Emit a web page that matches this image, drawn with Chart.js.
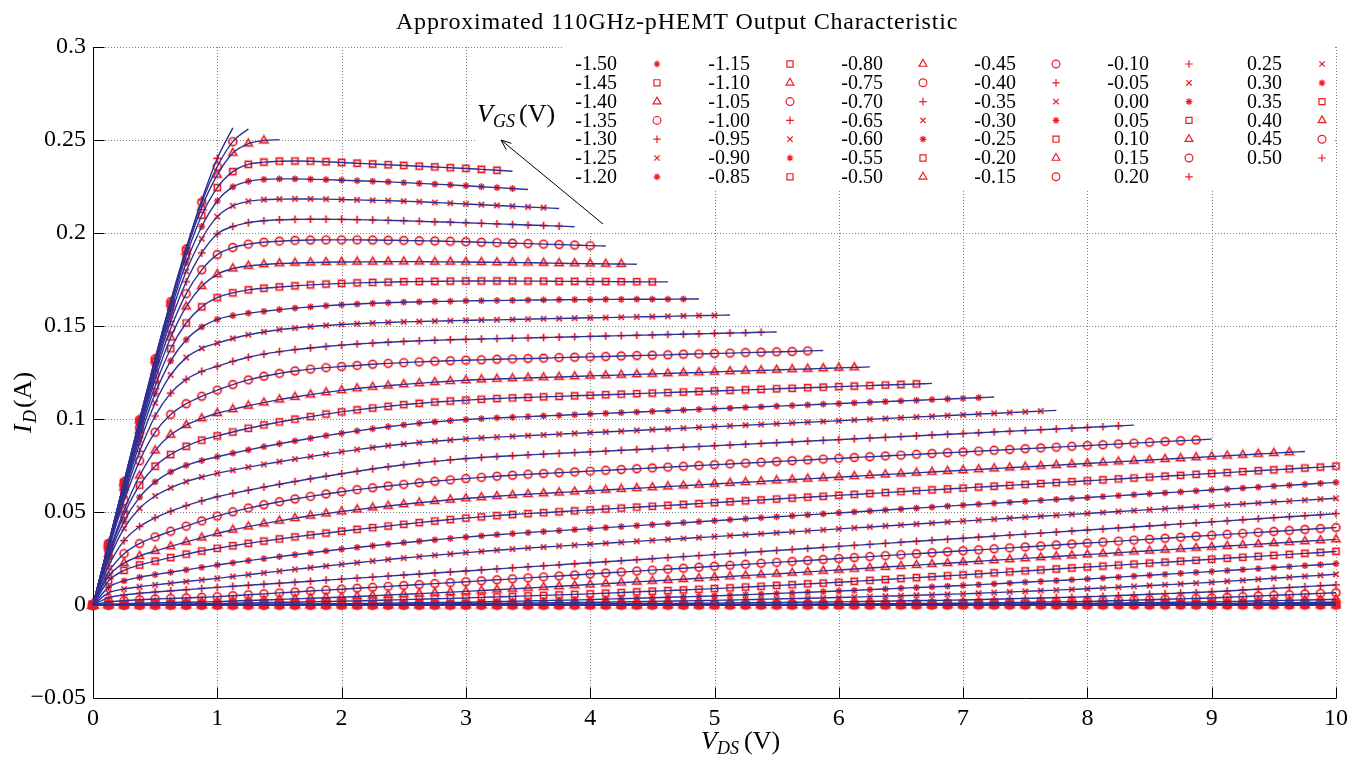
<!DOCTYPE html>
<html><head><meta charset="utf-8">
<script src="https://cdn.jsdelivr.net/npm/chart.js@4.4.1/dist/chart.umd.min.js"></script>
<style>html,body{margin:0;padding:0;background:#fff;}#wrap{width:1354px;height:762px;}</style>
</head><body><div id="wrap"><canvas id="c" width="1354" height="762"></canvas></div>
<script>
// Drain-source voltage grid (V)
const vds = [0,0.125,0.25,0.375,0.5,0.625,0.75,0.875,1,1.125,1.25,1.375,1.5,1.625,1.75,1.875,2,2.125,2.25,2.375,2.5,2.625,2.75,2.875,3,3.125,3.25,3.375,3.5,3.625,3.75,3.875,4,4.125,4.25,4.375,4.5,4.625,4.75,4.875,5,5.125,5.25,5.375,5.5,5.625,5.75,5.875,6,6.125,6.25,6.375,6.5,6.625,6.75,6.875,7,7.125,7.25,7.375,7.5,7.625,7.75,7.875,8,8.125,8.25,8.375,8.5,8.625,8.75,8.875,9,9.125,9.25,9.375,9.5,9.625,9.75,9.875,10];
const vgsLabels = ['-1.50','-1.45','-1.40','-1.35','-1.30','-1.25','-1.20','-1.15','-1.10','-1.05','-1.00','-0.95','-0.90','-0.85','-0.80','-0.75','-0.70','-0.65','-0.60','-0.55','-0.50','-0.45','-0.40','-0.35','-0.30','-0.25','-0.20','-0.15','-0.10','-0.05','0.00','0.05','0.10','0.15','0.20','0.25','0.30','0.35','0.40','0.45','0.50'];
const xTickValues = [0,1,2,3,4,5,6,7,8,9,10];
const xTickLabels = ['0','1','2','3','4','5','6','7','8','9','10'];
const yTickValues = [-0.05,0,0.05,0.1,0.15,0.2,0.25,0.3];
const yTickLabels = ['\u22120.05','0','0.05','0.1','0.15','0.2','0.25','0.3'];

// Drain current per VGS (mA), one value per vds step
const id_m150 = [0,0,0,0,0,0,0,0,0,0,0,0,0,0,0,0,0,0,0,0,0,0,0,0,0,0,0,0,0,0,0,0,0,0,0,0,0,0,0,0,0,0,0,0,0,0,0,0,0,0,0,0,0,0,0,0,0,0,0,0,0,0,0,0,0,0,0,0,0,0,0,0,0,0,0,0,0,0,0,0,0];
const id_m145 = [0,0,0,0,0,0,0,0,0,0,0,0,0,0,0,0,0,0,0,0,0,0,0,0,0,0,0,0,0,0,0,0,0,0,0,0,0,0,0,0,0,0,0,0,0,0,0,0,0,0,0,0,0,0,0,0,0,0,0,0,0,0,0,0,0,0,0,0,0,0,0,0,0,0,0,0,0,0,0,0,0];
const id_m140 = [0,0,0,0,0,0,0,0,0,0,0,0,0,0,0,0,0,0,0,0,0,0,0,0,0,0,0,0,0,0,0,0,0,0,0,0,0,0,0,0,0,0,0,0,0,0,0,0,0,0,0,0,0,0,0,0,0,0,0,0,0,0,0,0,0,0,0,0,0,0,0,0,0,0,0,0,0,0,0,0,0];
const id_m135 = [0,0,0,0,0,0,0,0,0,0,0,0,0,0,0,0,0,0,0,0,0,0,0,0,0,0,0,0,0,0,0,0,0,0,0,0,0,0,0,0,0,0,0,0,0,0,0,0,0,0,0,0,0,0,0,0,0,0,0,0,0,0,0,0,0,0,0,0,0,0,0,0,0,0,0,0,0,0,0,0,0];
const id_m130 = [0,0,0,0,0,0,0,0,0,0,0,0,0,0,0,0,0,0,0,0,0,0,0,0,0,0,0,0,0,0,0,0,0,0,0,0,0,0,0,0,0,0,0,0,0,0,0,0,0,0,0,0,0,0,0,0,0,0,0,0,0,0,0,0,0,0,0,0,0,0,0,0,0,0,0,0,0,0,0,0,0];
const id_m125 = [0,0,0,0,0,0,0,0,0,0,0,0,0,0,0,0,0,0,0,0,0,0,0,0,0,0,0,0,0,0,0,0,0,0,0,0,0,0,0,0,0,0,0,0,0,0,0,0,0,0,0,0,0,0,0,0,0,0,0,0,0,0,0,0,0,0.03,0.05,0.08,0.1,0.13,0.15,0.18,0.2,0.23,0.25,0.28,0.3,0.33,0.35,0.38,0.4];
const id_m120 = [0,0,0,0,0,0,0,0,0,0,0,0,0,0,0,0,0,0,0,0,0,0,0,0,0,0,0,0,0,0,0,0,0,0,0,0,0,0,0,0,0,0,0,0,0,0,0,0,0,0,0,0,0,0,0,0,0,0.03,0.05,0.08,0.1,0.13,0.15,0.18,0.2,0.23,0.25,0.28,0.3,0.33,0.35,0.38,0.4,0.45,0.5,0.55,0.6,0.65,0.7,0.75,0.8];
const id_m115 = [0,0,0,0,0,0,0,0,0,0,0,0,0,0,0,0,0,0,0,0,0,0,0,0,0,0,0,0,0,0,0,0,0,0,0,0,0,0,0,0,0,0,0,0,0,0,0,0,0,0.03,0.05,0.08,0.1,0.13,0.15,0.18,0.2,0.23,0.25,0.28,0.3,0.33,0.35,0.38,0.4,0.45,0.5,0.55,0.6,0.65,0.7,0.75,0.8,0.89,0.98,1.06,1.15,1.24,1.33,1.41,1.5];
const id_m110 = [0,0,0,0,0,0,0,0,0,0,0,0,0,0,0,0,0,0,0,0,0,0,0,0,0,0,0,0,0,0,0,0,0,0.05,0.05,0.06,0.07,0.08,0.09,0.1,0.1,0.11,0.13,0.14,0.15,0.16,0.18,0.19,0.2,0.23,0.25,0.28,0.3,0.33,0.35,0.38,0.4,0.46,0.51,0.57,0.62,0.68,0.74,0.79,0.85,0.96,1.06,1.17,1.27,1.38,1.49,1.59,1.7,1.86,2.03,2.19,2.35,2.51,2.68,2.84,3];
const id_m105 = [0,0,0,0.01,0.01,0.01,0.02,0.02,0.02,0.03,0.03,0.03,0.04,0.04,0.04,0.05,0.05,0.06,0.06,0.07,0.07,0.08,0.08,0.09,0.1,0.11,0.12,0.13,0.14,0.15,0.16,0.17,0.18,0.2,0.21,0.23,0.24,0.26,0.27,0.29,0.3,0.33,0.36,0.39,0.43,0.46,0.49,0.52,0.55,0.6,0.65,0.7,0.75,0.8,0.85,0.9,0.95,1.07,1.19,1.31,1.43,1.54,1.66,1.78,1.9,2.14,2.37,2.61,2.85,3.09,3.32,3.56,3.8,4.15,4.5,4.85,5.2,5.55,5.9,6.25,6.6];
const id_m100 = [0,0,0.01,0.01,0.02,0.03,0.03,0.04,0.05,0.06,0.07,0.08,0.09,0.1,0.1,0.11,0.12,0.14,0.16,0.19,0.21,0.23,0.25,0.28,0.3,0.34,0.38,0.41,0.45,0.49,0.53,0.56,0.6,0.65,0.7,0.75,0.8,0.85,0.9,0.95,1,1.09,1.18,1.26,1.35,1.44,1.53,1.61,1.7,1.82,1.95,2.07,2.2,2.32,2.45,2.57,2.7,2.91,3.12,3.34,3.55,3.76,3.97,4.19,4.4,4.74,5.07,5.41,5.75,6.09,6.42,6.76,7.1,7.56,8.03,8.49,8.95,9.41,9.87,10.34,10.8];
const id_m095 = [0,0.01,0.02,0.04,0.05,0.06,0.07,0.09,0.1,0.12,0.15,0.17,0.2,0.22,0.25,0.27,0.3,0.35,0.4,0.45,0.5,0.55,0.6,0.65,0.7,0.79,0.88,0.96,1.05,1.14,1.23,1.31,1.4,1.54,1.67,1.81,1.95,2.09,2.22,2.36,2.5,2.69,2.87,3.06,3.25,3.44,3.62,3.81,4,4.25,4.5,4.75,5,5.25,5.5,5.75,6,6.34,6.67,7.01,7.35,7.69,8.02,8.36,8.7,9.14,9.57,10.01,10.45,10.89,11.32,11.76,12.2,12.74,13.27,13.81,14.35,14.89,15.42,15.96,16.5];
const id_m090 = [0,0.05,0.1,0.13,0.17,0.2,0.23,0.27,0.3,0.35,0.4,0.45,0.5,0.55,0.6,0.65,0.7,0.8,0.9,1,1.1,1.2,1.3,1.4,1.5,1.67,1.85,2.02,2.2,2.37,2.55,2.72,2.9,3.15,3.4,3.65,3.9,4.15,4.4,4.65,4.9,5.22,5.55,5.87,6.2,6.52,6.85,7.17,7.5,7.87,8.25,8.62,9,9.37,9.75,10.12,10.5,10.94,11.38,11.81,12.25,12.69,13.13,13.56,14,14.5,15,15.5,16,16.5,17,17.5,18,18.52,19.05,19.57,20.1,20.62,21.15,21.67,22.2];
const id_m085 = [0,0.1,0.2,0.3,0.4,0.5,0.6,0.7,0.8,0.95,1.1,1.25,1.4,1.55,1.7,1.85,2,2.2,2.45,2.65,2.9,3.1,3.35,3.55,3.8,4.1,4.35,4.6,4.9,5.15,5.45,5.7,6,6.35,6.7,7.05,7.4,7.75,8.1,8.45,8.8,9.2,9.65,10.05,10.5,10.9,11.35,11.75,12.2,12.7,13.2,13.7,14.2,14.7,15.2,15.7,16.2,16.7,17.25,17.8,18.3,18.85,19.35,19.9,20.4,20.9,21.45,21.95,22.5,23,23.55,24.05,24.6,25.1,25.65,26.15,26.7,27.2,27.75,28.25,28.8];
const id_m080 = [0,0.4,0.7,0.95,1.15,1.35,1.5,1.65,1.8,2.1,2.4,2.7,3,3.3,3.6,3.9,4.2,4.58,4.97,5.36,5.75,6.14,6.53,6.92,7.3,7.76,8.22,8.68,9.14,9.6,10.06,10.52,11,11.48,11.96,12.44,12.92,13.4,13.88,14.36,14.84,15.32,15.8,16.28,16.76,17.28,17.8,18.32,18.84,19.36,19.88,20.4,20.92,21.44,21.96,22.48,23,23.52,24.04,24.55,25.06,25.57,26.08,26.59,27.1,27.61,28.12,28.63,29.14,29.65,30.16,30.67,31.18,31.69,32.2,32.71,33.22,33.73,34.24,34.75,35.26];
const id_m075 = [0,1.6,2.3,2.8,3.2,3.5,3.8,4.15,4.5,5,5.5,6,6.5,7,7.5,8,8.5,9,9.5,10,10.5,11,11.5,12,12.5,13.02,13.54,14.06,14.58,15.1,15.62,16.14,16.66,17.18,17.7,18.22,18.74,19.26,19.78,20.3,20.82,21.34,21.86,22.38,22.9,23.42,23.94,24.46,24.98,25.5,26.02,26.54,27.06,27.58,28.1,28.62,29.14,29.66,30.18,30.7,31.22,31.74,32.26,32.78,33.3,33.82,34.34,34.86,35.38,35.9,36.42,36.94,37.46,37.98,38.5,39.02,39.54,40.06,40.58,41.1,41.62];
const id_m070 = [0,4,5.4,6.3,7,7.6,8.2,8.9,9.5,10.05,10.6,11.15,11.7,12.25,12.8,13.35,13.9,14.45,15,15.55,16.1,16.65,17.2,17.75,18.3,18.85,19.4,19.95,20.5,21.05,21.6,22.15,22.7,23.25,23.8,24.35,24.9,25.45,26,26.55,27.1,27.65,28.2,28.75,29.3,29.85,30.4,30.95,31.5,32.05,32.6,33.15,33.7,34.25,34.8,35.35,35.9,36.45,37,37.55,38.1,38.65,39.2,39.75,40.3,40.85,41.4,41.95,42.5,43.05,43.6,44.15,44.7,45.25,45.8,46.35,46.9,47.45,48,48.55,49.1];
const id_m065 = [0,6.5,8.6,9.8,10.8,11.7,12.6,13.5,14.3,15.3,16.3,17.25,18.2,19.15,20.05,20.95,21.85,22.75,23.6,24.45,25.25,26,26.75,27.45,28.15,28.8,29.45,30.05,30.65,31.16,31.67,32.18,32.69,33.2,33.71,34.22,34.73,35.24,35.75,36.26,36.77,37.28,37.79,38.3,38.81,39.34,39.86,40.39,40.91,41.44,41.96,42.49,43.01,43.54,44.06,44.59,45.11,45.64,46.16,46.67,47.18,47.69,48.2,48.71,49.22,49.73,50.24,50.75,51.26,51.77,52.28,52.79,53.3,53.81,54.32,54.83,55.34,55.85,56.36,56.87,57.38];
const id_m060 = [0,9.5,13,14.9,16.3,17.6,18.9,20.2,21.5,22.7,23.85,24.95,26,27.05,28.05,29.05,30,30.95,31.85,32.7,33.5,34.3,35.05,35.8,36.5,37.15,37.8,38.4,38.95,39.48,40.01,40.54,41.07,41.6,42.13,42.66,43.19,43.72,44.25,44.78,45.31,45.84,46.37,46.9,47.43,47.95,48.47,48.99,49.51,50.03,50.55,51.07,51.59,52.11,52.63,53.15,53.67,54.19,54.71,55.22,55.73,56.24,56.75,57.26,57.77,58.28,58.79,59.3,59.81,60.32,60.83,61.34,61.85,62.36,62.87,63.38,63.89,64.4,64.91,65.42,65.93];
const id_m055 = [0,13,18.6,21.5,23.6,25.5,27.3,29,30.5,31.85,33.15,34.35,35.5,36.6,37.65,38.65,39.65,40.6,41.55,42.45,43.4,44.3,45.15,45.95,46.7,47.4,48.05,48.65,49.14,49.63,50.12,50.61,51.1,51.59,52.08,52.57,53.06,53.55,54.04,54.53,55.02,55.51,56,56.49,56.98,57.47,57.96,58.45,58.94,59.43,59.92,60.41,60.9,61.39,61.88,62.37,62.86,63.35,63.84,64.33,64.82,65.31,65.8,66.29,66.78,67.27,67.76,68.25,68.74,69.23,69.72,70.21,70.7,71.19,71.68,72.17,72.66,73.15,73.64,74.13,74.62];
const id_m050 = [0,15.5,22.5,26.3,29,31.5,33.9,36.2,38.5,40.4,42.15,43.75,45.25,46.65,47.95,49.15,50.25,51.3,52.3,53.25,54.15,55,55.8,56.55,57.25,57.9,58.5,59.05,59.55,60.01,60.47,60.93,61.39,61.85,62.31,62.77,63.23,63.69,64.15,64.61,65.07,65.53,65.99,66.45,66.91,67.37,67.83,68.29,68.75,69.21,69.67,70.13,70.59,71.05,71.51,71.97,72.43,72.89,73.35,73.81,74.27,74.73,75.19,75.65,76.11,76.57,77.03,77.49,77.95,78.41,78.87,79.33,79.79,80.25,80.71,81.17,81.63,82.09,82.55];
const id_m045 = [0,17.8,27.6,33,36.6,39.6,42.4,45.2,47.8,50.1,52.1,53.9,55.5,57,58.4,59.7,60.9,62,63,63.95,64.85,65.7,66.5,67.25,67.95,68.6,69.2,69.75,70.25,70.68,71.11,71.54,71.97,72.4,72.83,73.26,73.69,74.12,74.55,74.98,75.41,75.84,76.27,76.7,77.13,77.56,77.99,78.42,78.85,79.28,79.71,80.14,80.57,81,81.43,81.86,82.29,82.72,83.15,83.58,84.01,84.44,84.87,85.3,85.73,86.16,86.59,87.02,87.45,87.88,88.31,88.74,89.17];
const id_m040 = [0,21,34.6,42.2,46.9,50.4,53.4,56,58.2,60,61.7,63.35,64.9,66.4,67.85,69.25,70.6,71.9,73.15,74.35,75.4,76.35,77.2,78,78.75,79.3,79.8,80.25,80.7,81.11,81.52,81.93,82.34,82.75,83.16,83.57,83.98,84.39,84.8,85.21,85.62,86.03,86.44,86.85,87.26,87.67,88.08,88.49,88.9,89.31,89.72,90.13,90.54,90.95,91.36,91.77,92.18,92.59,93,93.41,93.82,94.23,94.64,95.05,95.46,95.87,96.28,96.69];
const id_m035 = [0,24,41.2,52,58.6,63,66.3,68.8,70.8,72.5,74.1,75.6,77.05,78.45,79.8,81.1,82.35,83.55,84.65,85.65,86.55,87.35,88.05,88.7,89.3,89.8,90.25,90.65,91.05,91.45,91.85,92.25,92.65,93.05,93.45,93.85,94.25,94.65,95.05,95.45,95.85,96.25,96.65,97.05,97.45,97.85,98.25,98.65,99.05,99.45,99.85,100.25,100.65,101.05,101.45,101.85,102.25,102.65,103.05,103.45,103.85,104.25,104.65];
const id_m030 = [0,25.5,45,58,66.2,71.6,75.1,77.7,79.7,81.6,83.4,85.1,86.7,88.2,89.65,91.05,92.35,93.6,94.75,95.85,96.85,97.7,98.45,99.1,99.7,100.2,100.6,100.95,101.3,101.65,102,102.35,102.7,103.05,103.4,103.75,104.1,104.45,104.8,105.15,105.5,105.85,106.2,106.55,106.9,107.25,107.6,107.95,108.3,108.65,109,109.35,109.7,110.05,110.4,110.75,111.1,111.45,111.8];
const id_m025 = [0,26.8,48.6,64.4,74.6,80.9,85.3,88.6,90.9,93,95,96.8,98.4,99.9,101.3,102.6,103.8,104.9,105.9,106.8,107.7,108.4,109.1,109.6,110.1,110.6,111,111.3,111.59,111.88,112.17,112.46,112.75,113.04,113.33,113.62,113.91,114.2,114.49,114.78,115.07,115.36,115.65,115.94,116.23,116.52,116.81,117.1,117.39,117.68,117.97,118.26,118.55,118.84,119.13];
const id_m020 = [0,27.5,51,69.5,83,91.5,96.7,100.3,103.1,105.2,107.1,108.8,110.4,111.8,113.1,114.3,115.4,116.4,117.2,117.9,118.6,119.2,119.8,120.3,120.8,121.2,121.5,121.8,122.1,122.3,122.6,122.9,123.2,123.4,123.7,124,124.2,124.5,124.8,125,125.3,125.6,125.9,126.1,126.4,126.7,126.9,127.2,127.5,127.7,128];
const id_m015 = [0,29.7,56,77.5,92.9,102.4,108.2,112.2,115.5,118.5,121,123,124.5,125.8,126.8,127.6,128.2,128.8,129.4,129.9,130.3,130.7,131,131.3,131.6,131.8,132.1,132.3,132.5,132.7,133,133.2,133.4,133.6,133.9,134.1,134.3,134.5,134.8,135,135.2,135.4,135.7,135.9,136.1,136.3,136.6,136.8];
const id_m010 = [0,30.3,58.2,82.6,101.6,113.9,121.3,125.6,128.3,131,133.2,134.9,136.2,137.3,138.2,139,139.7,140.3,140.8,141.3,141.7,142,142.3,142.6,142.8,143,143.2,143.4,143.6,143.8,144,144.2,144.4,144.6,144.8,145,145.2,145.4,145.6,145.8,146,146.2,146.4,146.6,146.8];
const id_m005 = [0,30.8,59.9,86.8,108.6,123.7,133,138,140.8,143.3,145.3,146.8,148,148.9,149.7,150.3,150.8,151.2,151.6,151.9,152.2,152.4,152.6,152.8,153,153.2,153.3,153.5,153.7,153.9,154,154.2,154.4,154.5,154.7,154.9,155,155.2,155.4,155.6,155.7,155.9];
const id_p000 = [0,31.2,61.2,89.7,113.7,131.2,142.6,149.5,153.6,155.6,156.9,157.9,158.8,159.6,160.3,160.9,161.4,161.8,162.2,162.5,162.8,163,163.2,163.3,163.5,163.6,163.7,163.8,163.9,164,164.1,164.2,164.2,164.3,164.3,164.4,164.4,164.4,164.5,164.5];
const id_p005 = [0,31.6,62.3,92,117.8,137.8,151.6,160.3,165.2,167.8,169.4,170.3,171,171.6,172.1,172.5,172.9,173.2,173.4,173.6,173.8,173.9,174,174.1,174.2,174.2,174.2,174.2,174.1,174.1,174,174,173.9,173.9,173.8,173.8,173.7,173.7];
const id_p010 = [0,31.9,63.2,93.8,121.2,143.8,160.4,171.4,177.8,180.9,182.3,183.1,183.6,183.9,184.1,184.3,184.4,184.5,184.5,184.6,184.6,184.6,184.5,184.5,184.4,184.3,184.2,184.1,184,183.9,183.7,183.6,183.5,183.4,183.3,183.2];
const id_p015 = [0,32.2,64,95.2,124,148.6,167.4,180.2,188.4,192.2,194,195,195.6,196,196.2,196.3,196.3,196.3,196.2,196.1,196,195.8,195.7,195.5,195.3,195,194.8,194.5,194.3,194,193.8,193.5,193.2,193];
const id_p020 = [0,32.4,64.6,96.3,126.2,152.5,173.8,189.3,199.5,203.5,205.6,206.6,207.1,207.3,207.4,207.4,207.3,207.2,207,206.8,206.6,206.3,206,205.8,205.5,205.2,204.9,204.6,204.3,204,203.7,203.4];
const id_p025 = [0,32.6,65.1,97.2,128,155.8,179.4,196.9,208.8,214.6,217,217.9,218.2,218.3,218.3,218.2,218,217.8,217.6,217.4,217.1,216.8,216.4,216,215.6,215.2,214.8,214.4,214,213.6,213.2];
const id_p030 = [0,32.7,65.4,98,129.6,158.5,184,203.5,217.2,224.8,227.8,228.8,229.1,229.1,228.9,228.7,228.4,228.1,227.8,227.5,227.1,226.7,226.3,225.9,225.4,224.9,224.4,223.9,223.4];
const id_p035 = [0,32.8,65.7,98.7,130.8,160.6,187.6,209.5,224.4,233,236.9,238.1,238.6,238.7,238.6,238.3,237.9,237.5,237.1,236.7,236.3,235.9,235.5,235.1,234.7,234.2,233.7,233.2];
const id_p040 = [0,32.9,66,99.3,131.8,162.2,190,213.8,231.2,243,248,249.7,250.2];
const id_p045 = [0,33,66.2,99.6,132.3,163,191.3,216.5,235.7,249.1,256];
const id_p050 = [0,33,66.3,99.8,132.6,163.5,192,217.8,240.1,256.5];

const curves = [id_m150,id_m145,id_m140,id_m135,id_m130,id_m125,id_m120,id_m115,id_m110,id_m105,id_m100,id_m095,id_m090,id_m085,id_m080,id_m075,id_m070,id_m065,id_m060,id_m055,id_m050,id_m045,id_m040,id_m035,id_m030,id_m025,id_m020,id_m015,id_m010,id_m005,id_p000,id_p005,id_p010,id_p015,id_p020,id_p025,id_p030,id_p035,id_p040,id_p045,id_p050];

const markerCycle = ['star','rect','triangle','circle','cross','crossRot'];
const markerRadius = {star:3.4, rect:4.3, triangle:4.5, circle:3.9, cross:3.8, crossRot:3.8};
const RED = '#ed1c24', HALO = 'rgba(237,28,36,0.3)', BLUE = '#2e3192';
const SERIF = "'Liberation Serif','Times New Roman',serif";

const datasets = [];
curves.forEach((arr, k) => {
  const style = markerCycle[k % 6];
  const r = markerRadius[style];
  const pts = arr.map((v, i) => ({x: vds[i], y: v / 1000}));
  const meas = arr.length >= vds.length ? pts : pts.slice(0, -1);
  datasets.push({label: vgsLabels[k] + ' fit', data: pts, showLine: true, borderColor: BLUE, borderWidth: 1.4,
    pointRadius: 0, cubicInterpolationMode: 'monotone', order: 1, clip: false});
  datasets.push({label: vgsLabels[k] + ' halo', data: meas, showLine: false, pointStyle: style, pointRadius: r,
    pointBorderColor: HALO, pointBorderWidth: 3, pointBackgroundColor: 'rgba(0,0,0,0)', order: 3, clip: false});
  datasets.push({label: vgsLabels[k], data: meas, showLine: false, pointStyle: style, pointRadius: r,
    pointBorderColor: RED, pointBorderWidth: 1.2, pointBackgroundColor: 'rgba(0,0,0,0)', order: 2, clip: false});
});

function drawParts(ctx, parts, x, y) {
  parts.forEach(p => { ctx.font = p.f; ctx.fillText(p.t, x + p.x, y + (p.dy || 0)); });
}

const frame = {
  id: 'frame',
  beforeDatasetsDraw(chart) {
    const {ctx, chartArea: a, scales: {x, y}} = chart;
    ctx.save();
    ctx.strokeStyle = '#808080'; ctx.lineWidth = 1; ctx.setLineDash([1, 2]);
    ctx.beginPath();
    xTickValues.slice(1).forEach(v => { const p = Math.round(x.getPixelForValue(v)) + 0.5; ctx.moveTo(p, a.top); ctx.lineTo(p, a.bottom); });
    yTickValues.slice(1).forEach(v => { const p = Math.round(y.getPixelForValue(v)) + 0.5; ctx.moveTo(a.left, p); ctx.lineTo(a.right, p); });
    ctx.stroke();
    ctx.setLineDash([]);
    ctx.fillStyle = '#fff';
    ctx.fillRect(562, 44, 772, 147);
    ctx.fillRect(476, 94, 130, 137);
    ctx.strokeStyle = '#000'; ctx.lineWidth = 1;
    const L = Math.round(a.left) + 0.5, B = Math.round(a.bottom) + 0.5;
    ctx.beginPath();
    ctx.moveTo(L, a.top); ctx.lineTo(L, B); ctx.lineTo(a.right, B);
    xTickValues.forEach(v => { const p = Math.round(x.getPixelForValue(v)) + 0.5; ctx.moveTo(p, B); ctx.lineTo(p, B - 11); });
    yTickValues.forEach(v => { const p = Math.round(y.getPixelForValue(v)) + 0.5; ctx.moveTo(L, p); ctx.lineTo(L + 11, p); });
    ctx.stroke();
    ctx.restore();
  },
  afterDatasetsDraw(chart) {
    const ctx = chart.ctx;
    ctx.save();
    // legend
    ctx.textAlign = 'right'; ctx.textBaseline = 'middle';
    vgsLabels.forEach((lab, i) => {
      const col = Math.floor(i / 7), row = i % 7;
      const ty = 64 + row * 18.8;
      ctx.font = '20px ' + SERIF;
      ctx.fillStyle = '#000';
      ctx.fillText(lab, 617 + col * 133, ty + 1);
      const style = markerCycle[i % 6];
      ctx.strokeStyle = RED; ctx.fillStyle = 'rgba(0,0,0,0)'; ctx.lineWidth = 1.2;
      Chart.helpers.drawPoint(ctx, {pointStyle: style, radius: markerRadius[style], borderWidth: 1.2, rotation: 0}, 657 + col * 133, ty);
    });
    // annotation arrow
    ctx.strokeStyle = '#000'; ctx.lineWidth = 1;
    const tip = [501, 140], tail = [603, 224];
    const dx = tail[0] - tip[0], dy = tail[1] - tip[1], len = Math.hypot(dx, dy);
    const ux = dx / len, uy = dy / len, ang = 0.38, hl = 11;
    ctx.beginPath();
    ctx.moveTo(tail[0], tail[1]); ctx.lineTo(tip[0], tip[1]);
    [ang, -ang].forEach(t => {
      const c = Math.cos(t), s = Math.sin(t);
      ctx.moveTo(tip[0], tip[1]);
      ctx.lineTo(tip[0] + hl * (ux * c - uy * s), tip[1] + hl * (ux * s + uy * c));
    });
    ctx.stroke();
    ctx.fillStyle = '#000'; ctx.textAlign = 'left'; ctx.textBaseline = 'alphabetic';
    drawParts(ctx, [
      {t: 'V', f: 'italic 26px ' + SERIF, x: 0},
      {t: 'GS', f: 'italic 18px ' + SERIF, x: 16, dy: 5},
      {t: '(V)', f: '26px ' + SERIF, x: 42}
    ], 477, 122);
    // x label
    drawParts(ctx, [
      {t: 'V', f: 'italic 26px ' + SERIF, x: 0},
      {t: 'DS', f: 'italic 18px ' + SERIF, x: 16, dy: 5},
      {t: '(V)', f: '26px ' + SERIF, x: 43}
    ], 701, 749);
    // y label
    ctx.save();
    ctx.translate(31, 433); ctx.rotate(-Math.PI / 2);
    drawParts(ctx, [
      {t: 'I', f: 'italic 26px ' + SERIF, x: 0},
      {t: 'D', f: 'italic 18px ' + SERIF, x: 10, dy: 5},
      {t: '(A)', f: '26px ' + SERIF, x: 25}
    ], 0, 0);
    ctx.restore();
    // title
    const title = 'Approximated 110GHz-pHEMT Output Characteristic';
    ctx.font = '24px ' + SERIF;
    const target = 562;
    if ('letterSpacing' in ctx) {
      ctx.letterSpacing = '0px';
      const w0 = ctx.measureText(title).width;
      ctx.letterSpacing = ((target - w0) / title.length).toFixed(2) + 'px';
      ctx.fillText(title, 396, 29);
      ctx.letterSpacing = '0px';
    } else {
      const w0 = ctx.measureText(title).width;
      ctx.save(); ctx.translate(396, 29); ctx.scale(target / w0, 1); ctx.fillText(title, 0, 0); ctx.restore();
    }
    ctx.restore();
  }
};

const tickFont = {family: SERIF, size: 24};
new Chart(document.getElementById('c'), {
  type: 'scatter',
  data: {datasets},
  options: {
    responsive: false, animation: false, events: [], devicePixelRatio: 1,
    layout: {padding: {left: 0, right: 16, top: 47, bottom: 0}},
    plugins: {legend: {display: false}, tooltip: {enabled: false}, title: {display: false}},
    scales: {
      x: {type: 'linear', min: 0, max: 10,
        afterBuildTicks: s => { s.ticks = xTickValues.map(v => ({value: v})); },
        ticks: {callback: (v, i) => xTickLabels[i], font: tickFont, color: '#000', padding: 6, maxRotation: 0, autoSkip: false},
        grid: {display: false, drawTicks: false}, border: {display: false},
        afterFit: s => { s.height = 64; }},
      y: {type: 'linear', min: -0.05, max: 0.3,
        afterBuildTicks: s => { s.ticks = yTickValues.map(v => ({value: v})); },
        ticks: {callback: (v, i) => yTickLabels[i], font: tickFont, color: '#000', padding: 7, autoSkip: false},
        grid: {display: false, drawTicks: false}, border: {display: false},
        afterFit: s => { s.width = 93; }}
    }
  },
  plugins: [frame]
});
</script>
</body></html>
